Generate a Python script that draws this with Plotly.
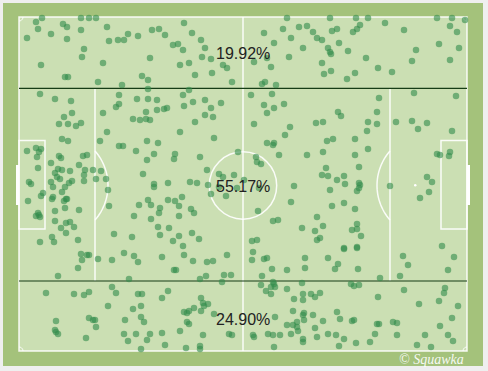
import numpy as np
import plotly.graph_objects as go

# ---- event locations (pitch coordinates, same scale as the drawn pitch) ----
event_x = [
    # top-left
    42,36,38,51,27,63,67,67,81,89,96,81,107,109,118,124,128,138,152,159,84,82,103,41,150,65,68,98,142,148,122,148,40,55,71,119,137,148,157,119,116,72,64,103,146,157,133,140,146,150,
    # top-middle
    184,165,192,173,178,183,201,205,202,211,180,189,195,212,223,227,232,
    287,264,283,291,299,307,313,317,274,303,289,254,267,271,265,262,276,
    189,183,193,205,164,167,184,211,221,205,213,251,272,264,274,284,267,
    # top-right
    330,356,368,437,452,465,385,360,357,353,337,332,404,450,457,322,339,328,330,331,348,366,416,439,459,412,450,322,324,331,355,347,378,392,
    414,456,379,338,341,377,
    # middle-left
    59,68,76,81,107,62,68,100,119,123,147,158,136,27,36,41,39,37,59,61,83,87,154,147,51,79,38,58,62,70,85,93,101,55,57,60,84,84,96,106,143,29,31,51,72,69,53,65,154,154,108,43,41,62,53,52,28,66,64,67,148,139,151,79,65,55,109,160,159,36,39,40,38,134,151,55,66,70,61,74,66,158,160,52,54,78,40,114,132,
    # middle-middle
    195,254,316,290,180,214,285,267,273,274,175,174,200,238,256,257,261,279,307,207,219,223,234,168,190,197,208,219,237,244,259,211,226,294,168,175,182,179,191,194,291,258,179,317,273,278,169,192,179,302,315,199,173,183,252,257,317,
    # middle-right
    323,368,377,396,412,427,418,452,367,327,333,355,368,323,355,437,440,450,449,359,326,322,328,344,337,345,359,360,359,357,330,427,432,390,429,420,332,344,355,323,357,357,352,361,320,344,357,442,
    # bottom-left
    81,87,89,82,78,58,98,112,124,134,138,129,
    46,74,84,89,112,116,138,142,108,133,141,56,55,56,58,89,93,95,96,86,125,141,144,124,128,136,150,147,141,
    # bottom-middle
    162,184,193,207,213,227,174,176,200,206,224,231,222,253,252,264,267,305,305,287,272,262,273,274,275,271,261,266,271,287,302,294,303,303,311,315,320,
    168,162,201,203,204,208,194,189,184,187,201,214,187,189,162,180,203,229,232,165,186,200,200,
    275,293,287,293,297,297,303,304,304,313,323,315,291,298,303,303,317,253,254,268,273,280,274,
    # bottom-right
    344,357,328,338,335,358,380,403,408,454,448,400,
    351,354,359,404,445,444,378,439,419,458,337,340,352,354,452,377,379,393,397,440,328,336,344,339,356,370,375,397,425,448,453,417,431,
]
event_y = [
    # top-left
    18,22,29,34,38,24,27,39,18,18,18,30,27,41,40,40,34,36,30,29,49,57,63,65,58,77,77,82,76,80,85,89,94,99,101,95,99,99,100,104,107,113,117,113,112,110,119,120,119,120,
    # top-middle
    23,35,33,45,44,50,40,48,57,59,65,63,75,73,65,68,82,
    18,33,29,38,27,26,32,38,43,48,57,62,58,67,82,84,85,
    90,95,102,100,109,108,106,108,103,115,117,95,94,105,108,104,113,
    # top-right
    18,18,18,18,18,20,23,25,29,32,29,31,30,26,32,40,43,48,52,54,51,58,50,44,48,61,60,63,74,71,73,79,68,72,
    93,96,98,112,116,112,
    # middle-left
    124,124,126,123,132,139,141,141,146,146,141,143,151,151,148,149,152,157,156,158,156,155,154,160,163,165,168,169,170,171,170,170,171,173,177,179,175,181,179,179,174,182,184,182,181,183,187,187,184,187,190,193,196,192,197,199,201,199,201,199,200,205,205,210,208,211,206,208,213,216,215,217,213,216,219,221,223,222,228,227,233,227,235,237,242,240,242,234,237,
    # middle-middle
    122,124,123,127,132,138,135,143,145,143,154,159,157,152,157,162,164,155,155,170,174,177,175,183,182,183,185,187,188,180,188,194,196,186,200,201,197,206,209,213,202,211,216,217,221,220,228,233,236,228,231,239,241,246,241,240,240,
    # middle-right
    122,122,124,122,121,123,129,131,131,141,139,139,149,152,155,154,155,152,156,167,168,175,176,176,180,184,183,185,188,191,190,177,182,186,192,198,206,203,209,226,224,229,230,236,238,248,247,246,
    # bottom-left
    254,255,255,260,268,276,259,260,253,256,262,279,
    293,294,295,292,287,293,294,294,306,309,306,321,330,332,334,318,320,320,327,338,320,317,322,334,341,334,334,340,349,
    # bottom-middle
    257,255,261,262,261,255,270,270,279,276,275,275,282,252,260,259,258,258,268,270,269,276,282,284,287,287,285,291,294,289,283,299,294,300,294,297,293,
    291,298,298,303,306,304,308,311,312,313,311,314,322,324,333,331,335,334,335,345,348,346,349,
    317,311,325,325,322,327,315,313,320,315,321,328,334,331,339,342,337,335,337,334,335,335,347,
    # bottom-right
    249,248,258,264,269,269,278,256,265,257,270,276,
    284,286,285,290,288,293,297,301,304,306,312,319,321,320,318,324,324,322,323,326,334,335,339,346,343,342,334,335,335,335,341,345,347,
]
zone_labels = ["19.92%", "55.17%", "24.90%"]
watermark = "© Squawka"

# ---- pitch geometry (drawing units) ----
W, H = 488, 371
FRAME = (3, 3, 483, 366)
PX0, PX1, PY0, PY1 = 19, 467, 17, 351
MIDX, MIDY = 243, 185.5
BOX_L, BOX_R = 95, 390
ZONE_T, ZONE_B = 88.3, 281
SIX_L, SIX_R, SIX_T, SIX_B = 45, 441, 140.5, 229
GOAL_T, GOAL_B = 165, 205
CIRCLE_R = 33.7
ARC_C, ARC_R = 55.7, 52.3

BORDER = "#a4c27b"
GRASS = "#cbdfb3"
LINE = "rgba(255,255,255,0.9)"
ZONE_LINE = "#163d16"
PAGE = "#efefef"

fig = go.Figure()

shapes = []
shapes.append(dict(type="rect", x0=FRAME[0], y0=FRAME[1], x1=FRAME[2], y1=FRAME[3],
                   fillcolor=BORDER, line=dict(width=0), layer="below"))
shapes.append(dict(type="rect", x0=PX0, y0=PY0, x1=PX1, y1=PY1,
                   fillcolor=GRASS, line=dict(color=LINE, width=1.5), layer="below"))

def wline(x0, y0, x1, y1, color=LINE, width=1.5):
    shapes.append(dict(type="line", x0=x0, y0=y0, x1=x1, y1=y1,
                       line=dict(color=color, width=width), layer="below"))

# halfway line
wline(MIDX, PY0, MIDX, PY1)
# penalty boxes
wline(BOX_L, ZONE_T, BOX_L, ZONE_B)
wline(BOX_R, ZONE_T, BOX_R, ZONE_B)
# six-yard boxes
shapes.append(dict(type="rect", x0=PX0, y0=SIX_T, x1=SIX_L, y1=SIX_B,
                   line=dict(color=LINE, width=1.5), layer="below"))
shapes.append(dict(type="rect", x0=SIX_R, y0=SIX_T, x1=PX1, y1=SIX_B,
                   line=dict(color=LINE, width=1.5), layer="below"))
# goals
shapes.append(dict(type="rect", x0=PX0 - 3, y0=GOAL_T, x1=PX0, y1=GOAL_B,
                   fillcolor="white", line=dict(width=0), layer="below"))
shapes.append(dict(type="rect", x0=PX1, y0=GOAL_T, x1=PX1 + 3, y1=GOAL_B,
                   fillcolor="white", line=dict(width=0), layer="below"))
# centre circle
shapes.append(dict(type="circle", x0=MIDX - CIRCLE_R, y0=MIDY - CIRCLE_R,
                   x1=MIDX + CIRCLE_R, y1=MIDY + CIRCLE_R,
                   line=dict(color=LINE, width=1.5), layer="below"))

# penalty arcs (circle centred near spot, clipped at box edge)
def arc_path(cx, r, side):
    half = np.arccos((BOX_L - ARC_C) / r)
    t = np.linspace(-half, half, 30)
    xs = cx + r * np.cos(t) if side == "L" else cx - r * np.cos(t)
    ys = MIDY + r * np.sin(t)
    return "M " + " L ".join(f"{x:.2f},{y:.2f}" for x, y in zip(xs, ys))

shapes.append(dict(type="path", path=arc_path(ARC_C, ARC_R, "L"),
                   line=dict(color=LINE, width=1.5), layer="below"))
shapes.append(dict(type="path", path=arc_path(PX1 + PX0 - ARC_C - 1, ARC_R, "R"),
                   line=dict(color=LINE, width=1.5), layer="below"))
# penalty spot (right visible)
shapes.append(dict(type="circle", x0=414, y0=184, x1=416.5, y1=186.5,
                   fillcolor="white", line=dict(width=0), layer="below"))
# corner arcs
for (cx, cy, sx, sy) in [(PX0, PY0, 1, 1), (PX1, PY0, -1, 1), (PX0, PY1, 1, -1), (PX1, PY1, -1, -1)]:
    t = np.linspace(0, np.pi / 2, 8)
    xs = cx + sx * 4 * np.cos(t)
    ys = cy + sy * 4 * np.sin(t)
    shapes.append(dict(type="path", path="M " + " L ".join(f"{x:.2f},{y:.2f}" for x, y in zip(xs, ys)),
                       line=dict(color=LINE, width=1), layer="below"))
# zone lines
wline(PX0, ZONE_T, PX1, ZONE_T, color=ZONE_LINE, width=1.2)
wline(PX0, ZONE_B, PX1, ZONE_B, color=ZONE_LINE, width=1.2)

fig.add_trace(go.Scatter(
    x=event_x, y=event_y, mode="markers",
    marker=dict(size=6.5, color="rgba(50,140,75,0.6)", line=dict(width=0)),
    hoverinfo="skip", showlegend=False, cliponaxis=False,
))

zone_mid = [(PY0 + ZONE_T) / 2 + 0.5, (ZONE_T + ZONE_B) / 2 + 1.5, (ZONE_B + PY1) / 2 + 3]
annotations = []
for lab, yy in zip(zone_labels, zone_mid):
    annotations.append(dict(x=MIDX, y=yy, text=lab, showarrow=False,
                            font=dict(family="Liberation Sans, Arial", size=16, color="#222222"),
                            xanchor="center", yanchor="middle"))
annotations.append(dict(x=PX1 - 1, y=359.5, text="<i>" + watermark + "</i>", showarrow=False,
                        font=dict(family="Liberation Serif", size=14, color="rgba(255,255,255,0.92)"),
                        xanchor="right", yanchor="middle"))

fig.update_layout(
    width=W, height=H, autosize=False,
    margin=dict(l=0, r=0, t=0, b=0, pad=0),
    paper_bgcolor=PAGE, plot_bgcolor=PAGE,
    xaxis=dict(range=[0, W], visible=False, fixedrange=True),
    yaxis=dict(range=[H, 0], visible=False, fixedrange=True),
    shapes=shapes, annotations=annotations,
)

fig.write_html("out.html", config={"displayModeBar": False},
               post_script="document.body.style.margin='0';document.body.style.overflow='hidden';")
